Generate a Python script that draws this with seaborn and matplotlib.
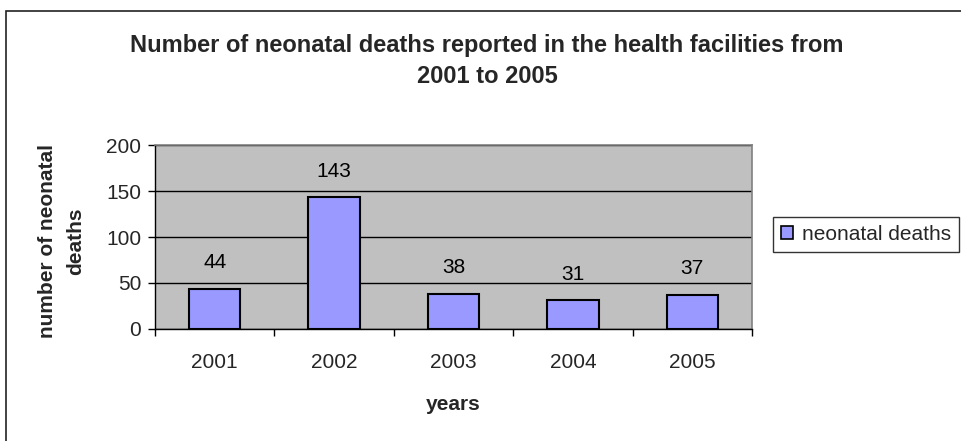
import matplotlib
matplotlib.use("Agg")
import matplotlib.pyplot as plt
from matplotlib.patches import Rectangle, Patch
from matplotlib.ticker import FixedLocator
import seaborn as sns
import pandas as pd

years = ["2001", "2002", "2003", "2004", "2005"]
neonatal_deaths = [44, 143, 38, 31, 37]
y_ticks = [0, 50, 100, 150, 200]

title_text = "Number of neonatal deaths reported in the health facilities from\n2001 to 2005"
x_label = "years"
y_label = "number of neonatal\ndeaths"
series_name = "neonatal deaths"

sns.set_style("white")
plt.rcParams["font.family"] = ["Liberation Sans", "DejaVu Sans"]

W, H = 962, 441
fig = plt.figure(figsize=(W / 100, H / 100), dpi=100)

# outer chart frame (only the left and top edges fall inside the canvas)
fig.patches.append(Rectangle((6 / W, -0.2), 1.5, 1.2 - 11 / H,
                             transform=fig.transFigure, fill=False,
                             edgecolor="#222222", linewidth=1.2))

left, right, top, bottom = 155, 752, 145, 329
ax = fig.add_axes([left / W, 1 - bottom / H, (right - left) / W, (bottom - top) / H])
ax.set_facecolor("#C0C0C0")

df = pd.DataFrame({"year": years, "deaths": neonatal_deaths})
sns.barplot(data=df, x="year", y="deaths", color="#9999FF", saturation=1,
            edgecolor="black", linewidth=1.5, width=0.43, ax=ax, zorder=3)

ax.set_ylim(y_ticks[0], y_ticks[-1])
ax.set_xlim(-0.5, len(years) - 0.5)
ax.set_yticks(y_ticks)
ax.yaxis.grid(True, color="black", linewidth=1)
ax.set_axisbelow(True)

for side in ["top", "right"]:
    ax.spines[side].set_color("#808080")
    ax.spines[side].set_linewidth(1.2)
for side in ["left", "bottom"]:
    ax.spines[side].set_color("black")
    ax.spines[side].set_linewidth(1)

ax.tick_params(axis="y", which="major", left=True, length=5, width=1,
               color="black", pad=5, labelsize=15)
ax.tick_params(axis="x", which="major", bottom=False, length=0, pad=17.5, labelsize=15)
ax.xaxis.set_minor_locator(FixedLocator([i - 0.5 for i in range(len(years) + 1)]))
ax.tick_params(axis="x", which="minor", bottom=True, length=5, width=1, color="black")

ax.set_xlabel("")
ax.set_ylabel("")

# value labels above each bar
for i, v in enumerate(neonatal_deaths):
    ax.annotate(str(v), (i, v), xytext=(0, 19.0), textcoords="offset points",
                ha="center", va="center", fontsize=15, color="black")

fig.text(487 / W, 1 - 34 / H, title_text, ha="center", va="top",
         fontsize=17, fontweight="bold", linespacing=1.42)
fig.text(453 / W, 1 - 404 / H, x_label, ha="center", va="center",
         fontsize=15, fontweight="bold")
fig.text(62 / W, 1 - 241 / H, y_label, ha="center", va="center", rotation=90,
         fontsize=15, fontweight="bold", linespacing=1.6)

handle = Patch(facecolor="#9999FF", edgecolor="black", linewidth=1.2)
leg = fig.legend([handle], [series_name], loc="upper left",
                 bbox_to_anchor=(773 / W, 1 - 217 / H), fontsize=15,
                 frameon=True, fancybox=False, shadow=False,
                 handlelength=0.58, handleheight=0.58, handletextpad=0.45,
                 borderpad=0.38, borderaxespad=0)
leg.get_frame().set_edgecolor("black")
leg.get_frame().set_linewidth(1)

fig.savefig("out.png", dpi=100)
